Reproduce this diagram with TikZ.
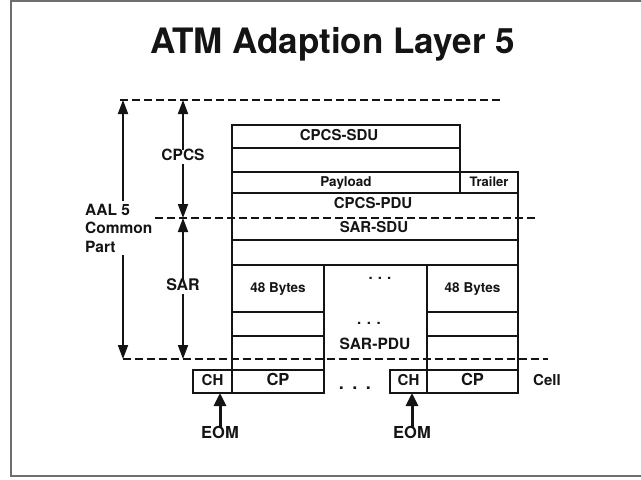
\documentclass[tikz,border=0pt]{standalone}
\usepackage{fontspec}
\setmainfont{TeX Gyre Heros}
\usetikzlibrary{arrows.meta}
\definecolor{ink}{RGB}{20,20,20}
\definecolor{framegray}{RGB}{110,110,110}
\begin{document}
\begin{tikzpicture}[x=1pt,y=-1pt,
  cellbox/.style={draw=ink, line width=2.1pt, rectangle, inner sep=0pt, outer sep=0pt,
    anchor=north west, text height=0.72em, text depth=0pt, text=ink},
  lbl/.style={inner sep=1pt, text height=0.72em, text depth=0pt, text=ink},
  fA/.style={font=\bfseries\fontsize{15}{18}\selectfont},
  fB/.style={font=\bfseries\fontsize{13.5}{16}\selectfont},
  fC/.style={font=\bfseries\fontsize{16.5}{19}\selectfont},
  dots/.style={inner sep=0pt, anchor=base, text=ink},
  layerline/.style={draw=ink, line width=2.1pt, dash pattern=on 8pt off 4pt},
  dimarrow/.style={draw=ink, line width=1.9pt, -{Triangle[length=14pt,width=10pt]}},
  eomarrow/.style={draw=ink, line width=3pt, -{Triangle[length=13pt,width=12pt]}},
]
\useasboundingbox (0,0) rectangle (641,480);
\fill[white] (0,0) rectangle (641,480);

% slide frame
\draw[framegray, line width=1.5pt] (641,1) -- (11,1) -- (11,476) -- (641,476);

% title
\node[lbl, font=\bfseries\fontsize{35}{40}\selectfont] (title) at (332.5,50) {ATM Adaption Layer 5};

% CPCS part
\node[cellbox, minimum width=228pt, minimum height=23pt] (sdu) at (232,125) {};
\node[lbl, fA] (sdutext) at (339,136.5) {CPCS-SDU};
\node[cellbox, minimum width=228pt, minimum height=24pt] (row2) at (232,148) {};
\node[cellbox, fB, minimum width=228pt, minimum height=21pt] (payload) at (232,172) {Payload};
\node[cellbox, font=\bfseries\fontsize{13}{15}\selectfont, minimum width=58pt, minimum height=21pt] (trailer) at (460,172) {Trailer};
\node[cellbox, minimum width=286pt, minimum height=47pt] (pdu) at (232,193) {};
\node[lbl, fA] (pdutext) at (373,205) {CPCS-PDU};
\node[lbl, fA] (sarsdu) at (374,228.5) {SAR-SDU};
\node[cellbox, minimum width=286pt, minimum height=25pt] (row5) at (232,240) {};

% SAR-PDU columns
\node[cellbox, fB, minimum width=92pt, minimum height=47pt] (lA) at (232,265) {48 Bytes};
\node[cellbox, minimum width=92pt, minimum height=24pt] (lB) at (232,312) {};
\node[cellbox, minimum width=92pt, minimum height=34pt] (lC) at (232,336) {};
\node[cellbox, fC, minimum width=92pt, minimum height=23pt] (cpL) at (232,370) {CP};
\node[cellbox, fA, minimum width=39pt, minimum height=23pt] (chL) at (193,370) {CH};

\node[cellbox, fB, minimum width=91pt, minimum height=47pt] (rA) at (427,265) {48\hspace{4pt}Bytes};
\node[cellbox, minimum width=91pt, minimum height=24pt] (rB) at (427,312) {};
\node[cellbox, minimum width=91pt, minimum height=34pt] (rC) at (427,336) {};
\node[cellbox, fC, minimum width=91pt, minimum height=23pt] (cpR) at (427,370) {CP};
\node[cellbox, fA, minimum width=37pt, minimum height=23pt] (chR) at (390,370) {CH};

\node[lbl, font=\bfseries\fontsize{15.5}{18}\selectfont] (sarpdu) at (375,346) {SAR-PDU};
\node[dots, font=\bfseries\fontsize{15}{18}\selectfont] (dtop) at (380,279.5) {.\hspace{5pt}.\hspace{5pt}.};
\node[dots, font=\bfseries\fontsize{15}{18}\selectfont] (dmid) at (369,324.5) {.\hspace{5.5pt}.\hspace{5.5pt}.};
\node[dots, font=\bfseries\fontsize{18}{20}\selectfont] (dcell) at (355,389) {.\hspace{8.5pt}.\hspace{8.5pt}.};
\node[lbl, fA, anchor=west] (cell) at (532,382) {Cell};

% EOM markers
\node[lbl, fC, inner sep=3pt] (eomL) at (220,435) {EOM};
\node[lbl, fC, inner sep=3pt] (eomR) at (412,435) {EOM};
\draw[eomarrow] (eomL.north) -- (eomL.north |- chL.south);
\draw[eomarrow] (eomR.north) -- (eomR.north |- chR.south);

% layer boundaries
\coordinate (topL) at (120,100);  \coordinate (topR) at (503,100);
\coordinate (midL) at (155,218);  \coordinate (midR) at (538,218);
\coordinate (botL) at (123,359);  \coordinate (botR) at (548,359);
\draw[layerline] (topL) -- (topR);
\draw[layerline] (midL) -- (midR);
\draw[layerline] (botL) -- (botR);

% dimension labels and arrows
\coordinate (aalTop) at (123,100); \coordinate (aalBot) at (123,359);
\coordinate (cpcsTop) at (183,100); \coordinate (split) at (183,218);
\coordinate (sarBot) at (183,359);
\node[inner sep=3pt, anchor=west, align=left, text=ink,
  font=\bfseries\fontsize{15.5}{18.5}\selectfont] (aal) at (82,228) {AAL 5\\Common\\Part};
\node[lbl, inner sep=3pt, font=\bfseries\fontsize{15.5}{18}\selectfont] (cpcs) at (183,157) {CPCS};
\node[lbl, inner sep=3pt, font=\bfseries\fontsize{16}{18}\selectfont] (sar) at (183,287) {SAR};
\draw[dimarrow] (aal.north -| aalTop) -- (aalTop);
\draw[dimarrow] (aal.south -| aalBot) -- (aalBot);
\draw[dimarrow] (cpcs.north) -- (cpcsTop);
\draw[dimarrow] (cpcs.south) -- (split);
\draw[dimarrow] (sar.north) -- (split);
\draw[dimarrow] (sar.south) -- (sarBot);
\end{tikzpicture}
\end{document}
